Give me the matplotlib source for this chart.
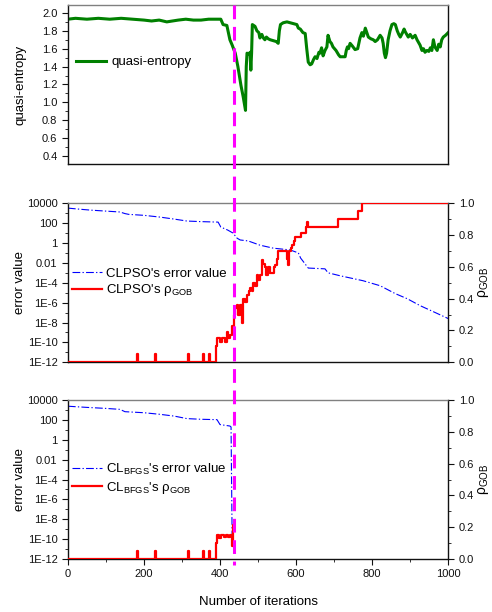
import matplotlib
matplotlib.use('Agg')
import matplotlib.pyplot as plt
import matplotlib.transforms as mtransforms
from matplotlib.lines import Line2D
from matplotlib.ticker import MultipleLocator, FixedLocator, NullFormatter, FixedFormatter

plt.rcParams['font.family'] = ['Liberation Sans', 'DejaVu Sans']
plt.rcParams['mathtext.fontset'] = 'custom'
plt.rcParams['mathtext.rm'] = 'Liberation Sans'
plt.rcParams['mathtext.it'] = 'Liberation Sans:italic'
plt.rcParams['mathtext.bf'] = 'Liberation Sans:bold'

# iteration where CLPSO hands over to BFGS
SWITCH_ITER = 438

# --- quasi-entropy (top panel) ---
qe_iter = [0, 20, 50, 80, 110, 140, 170, 200, 220, 240, 260, 275, 290, 310, 330, 350, 370, 390,
           402, 408, 418, 426, 432, 440, 447, 455, 461, 467, 469, 471, 476, 479, 481, 483, 485,
           492, 497, 502, 505, 510, 514, 518, 522, 527, 532, 540, 548, 553, 556, 559, 566, 576,
           585, 595, 602, 606, 611, 618, 624, 628, 632, 637, 641, 646, 650, 655, 660, 663, 667,
           671, 676, 681, 684, 689, 693, 697, 705, 712, 716, 722, 729, 732, 735, 738, 742, 748,
           755, 762, 768, 773, 777, 782, 786, 790, 797, 803, 808, 814, 821, 826, 829, 832, 835,
           838, 842, 847, 852, 857, 861, 866, 870, 874, 880, 884, 887, 891, 895, 900, 906, 913,
           918, 922, 926, 931, 935, 939, 944, 949, 953, 957, 961, 965, 968, 971, 975, 979, 983,
           987, 993, 1000]
qe_val = [1.93, 1.94, 1.93, 1.94, 1.93, 1.94, 1.93, 1.92, 1.91, 1.92, 1.90, 1.91, 1.92, 1.93, 1.92, 1.92, 1.93, 1.93,
          1.93, 1.87, 1.86, 1.70, 1.64, 1.55, 1.40, 1.19, 1.06, 0.91, 1.40, 1.55, 1.54, 1.56, 1.36, 1.55, 1.87,
          1.85, 1.80, 1.78, 1.72, 1.76, 1.72, 1.70, 1.73, 1.71, 1.70, 1.69, 1.68, 1.66, 1.80, 1.87, 1.89, 1.90,
          1.89, 1.88, 1.87, 1.83, 1.82, 1.78, 1.77, 1.60, 1.45, 1.42, 1.43, 1.48, 1.51, 1.49, 1.56, 1.55, 1.61,
          1.52, 1.58, 1.62, 1.75, 1.68, 1.66, 1.62, 1.58, 1.53, 1.51, 1.51, 1.51, 1.58, 1.62, 1.60, 1.66, 1.63,
          1.59, 1.60, 1.72, 1.78, 1.74, 1.83, 1.78, 1.73, 1.71, 1.70, 1.68, 1.70, 1.75, 1.72, 1.66, 1.55, 1.50,
          1.55, 1.70, 1.80, 1.87, 1.88, 1.87, 1.80, 1.76, 1.73, 1.78, 1.82, 1.79, 1.76, 1.73, 1.76, 1.72, 1.75,
          1.70, 1.67, 1.64, 1.58, 1.60, 1.56, 1.58, 1.57, 1.61, 1.58, 1.70, 1.62, 1.60, 1.58, 1.65, 1.62, 1.70,
          1.73, 1.75, 1.78]

# --- CLPSO (middle panel) ---
pso_err_iter = [0, 30, 60, 100, 137, 150, 160, 200, 242, 280, 313, 350, 395, 402, 420, 434, 445, 453,
                474, 505, 540, 584, 606, 612, 620, 632, 676, 684, 716, 776, 821, 861, 892, 926, 966, 1000]
pso_err_val = [3200, 2500, 2000, 1600, 1300, 900, 750, 600, 400, 250, 160, 140, 125, 40, 20, 10, 3, 2,
               1.6, 0.6, 0.3, 0.2, 0.1, 0.03, 0.012, 0.003, 0.0025, 0.001, 5e-4, 1.6e-4, 5e-5, 8e-6,
               2.5e-6, 5e-7, 1e-7, 2.5e-8]

pso_rho_iter = [0, 182, 185, 228, 231, 315, 318, 356, 359, 370, 373, 390, 393, 400, 405, 412, 418, 421,
                426, 431, 436, 439, 444, 448, 452, 457, 461, 466, 471, 475, 479, 483, 487, 492, 496,
                500, 505, 510, 514, 518, 522, 527, 532, 537, 541, 545, 549, 553, 571, 576, 579, 582,
                586, 590, 594, 597, 605, 612, 620, 625, 629, 632, 708, 710, 760, 763, 774, 1000]
pso_rho_val = [0, 0.05, 0, 0.05, 0, 0.05, 0, 0.05, 0, 0.05, 0, 0.10, 0.15, 0.13, 0.15, 0.13, 0.19, 0.15,
               0.17, 0.23, 0.30, 0.34, 0.36, 0.30, 0.36, 0.25, 0.40, 0.38, 0.42, 0.45, 0.47, 0.45, 0.50,
               0.48, 0.55, 0.52, 0.55, 0.64, 0.62, 0.60, 0.55, 0.60, 0.56, 0.56, 0.60, 0.61, 0.65, 0.70,
               0.70, 0.65, 0.61, 0.70, 0.72, 0.74, 0.76, 0.79, 0.79, 0.81, 0.81, 0.85, 0.88, 0.85, 0.85,
               0.90, 0.90, 0.95, 1.0, 1.0]

# --- CL-BFGS (bottom panel) ---
bfgs_err_iter = [0, 50, 100, 137, 150, 200, 242, 280, 313, 350, 392, 400, 426, 429, 432]
bfgs_err_val = [2500, 1900, 1500, 1200, 700, 550, 380, 250, 140, 120, 110, 35, 25, 20, 3e-11]

bfgs_rho_iter = [0, 182, 185, 228, 231, 315, 318, 356, 359, 370, 373, 390, 393, 398, 403, 410, 415,
                 420, 426, 431, 433, 437]
bfgs_rho_val = [0, 0.05, 0, 0.05, 0, 0.05, 0, 0.05, 0, 0.05, 0, 0.10, 0.15, 0.13, 0.15, 0.14, 0.15,
                0.14, 0.15, 0.08, 0.21, 0.21]

err_ticks = [1e4, 1e2, 1, 1e-2, 1e-4, 1e-6, 1e-8, 1e-10, 1e-12]
err_tick_labels = ['10000', '100', '1', '0.01', '1E-4', '1E-6', '1E-8', '1E-10', '1E-12']
err_minor = [1e3, 10, 0.1, 1e-3, 1e-5, 1e-7, 1e-9, 1e-11]

GREEN = '#008000'
BLUE = '#0000ff'
RED = '#ff0000'
MAGENTA = '#ff00ff'
DASHDOT = (7, 2, 1.2, 2)
RHO = r'ρ$_{\mathregular{GOB}}$'

fig = plt.figure(figsize=(4.92, 6.12), dpi=100)
ax1 = fig.add_axes([0.138, 0.732, 0.773, 0.260])
ax2 = fig.add_axes([0.138, 0.408, 0.773, 0.260])
ax3 = fig.add_axes([0.138, 0.087, 0.773, 0.259])


def frame(ax):
    for s in ['left', 'right', 'bottom']:
        ax.spines[s].set_color('#111111')
        ax.spines[s].set_linewidth(1.0)
    ax.spines['top'].set_color('#808080')
    ax.spines['top'].set_linewidth(1.0)
    ax.set_xlim(0, 1000)
    ax.tick_params(which='both', direction='out', labelsize=8, colors='#111111')
    ax.tick_params(which='major', length=4)
    ax.tick_params(which='minor', length=2.5)
    ax.tick_params(top=False, right=False)


# top panel
frame(ax1)
ax1.plot(qe_iter, qe_val, color=GREEN, lw=2.2, label='quasi-entropy')
ax1.set_ylim(0.31, 2.09)
ax1.yaxis.set_major_locator(MultipleLocator(0.2))
ax1.yaxis.set_minor_locator(MultipleLocator(0.1))
ax1.yaxis.set_major_formatter(plt.FormatStrFormatter('%.1f'))
ax1.tick_params(axis='x', which='both', bottom=False, labelbottom=False)
ax1.set_ylabel('quasi-entropy', fontsize=9.5)
ax1.yaxis.set_label_coords(-0.11, 0.5)
ax1.legend(loc='center left', bbox_to_anchor=(0.02, 0.64), frameon=False, fontsize=9.5,
           handlelength=2.3, handletextpad=0.4, borderaxespad=0, borderpad=0)


def error_panel(ax, err_x, err_y, rho_x, rho_y, err_label, rho_label, leg_y):
    frame(ax)
    ax.set_yscale('log')
    ax.set_ylim(1e-12, 1e4)
    ax.yaxis.set_major_locator(FixedLocator(err_ticks))
    ax.yaxis.set_major_formatter(FixedFormatter(err_tick_labels))
    ax.yaxis.set_minor_locator(FixedLocator(err_minor))
    ax.yaxis.set_minor_formatter(NullFormatter())
    l1, = ax.plot(err_x, err_y, color=BLUE, lw=0.8, dashes=DASHDOT, label=err_label)
    ax.set_ylabel('error value', fontsize=9.5)
    ax.yaxis.set_label_coords(-0.11, 0.5)

    axr = ax.twinx()
    axr.set_xlim(0, 1000)
    axr.set_ylim(0, 1)
    l2, = axr.plot(rho_x, rho_y, color=RED, lw=1.6, drawstyle='steps-post', label=rho_label)
    axr.yaxis.set_major_locator(MultipleLocator(0.2))
    axr.yaxis.set_minor_locator(MultipleLocator(0.1))
    axr.yaxis.set_major_formatter(plt.FormatStrFormatter('%.1f'))
    axr.tick_params(which='both', direction='out', labelsize=8, colors='#111111')
    axr.tick_params(which='major', length=4)
    axr.tick_params(which='minor', length=2.5)
    for s in axr.spines.values():
        s.set_visible(False)
    axr.set_ylabel(RHO, fontsize=10)
    axr.yaxis.set_label_coords(1.072, 0.5)
    axr.legend(handles=[l1, l2], loc='center left', bbox_to_anchor=(0.01, leg_y), frameon=False,
               fontsize=9.5, handlelength=2.3, handletextpad=0.3, labelspacing=0.2,
               borderaxespad=0, borderpad=0)
    return axr


error_panel(ax2, pso_err_iter, pso_err_val, pso_rho_iter, pso_rho_val,
            "CLPSO's error value", "CLPSO's " + RHO, 0.50)
ax2.tick_params(axis='x', which='both', bottom=False, labelbottom=False)

error_panel(ax3, bfgs_err_iter, bfgs_err_val, bfgs_rho_iter, bfgs_rho_val,
            r"CL$_{\mathregular{BFGS}}$'s error value", r"CL$_{\mathregular{BFGS}}$'s " + RHO, 0.505)
ax3.xaxis.set_major_locator(MultipleLocator(200))
ax3.xaxis.set_minor_locator(MultipleLocator(100))
ax3.set_xlabel('Number of iterations', fontsize=9.5, labelpad=12)

# dashed switch marker running through all panels
trans = mtransforms.blended_transform_factory(ax3.transData, fig.transFigure)
fig.add_artist(Line2D([SWITCH_ITER, SWITCH_ITER], [1 - 5 / 612, 1 - 565 / 612], transform=trans,
                      color=MAGENTA, lw=2.2, dashes=(4.5, 2.5), zorder=10))

fig.savefig('out.png', dpi=100)
